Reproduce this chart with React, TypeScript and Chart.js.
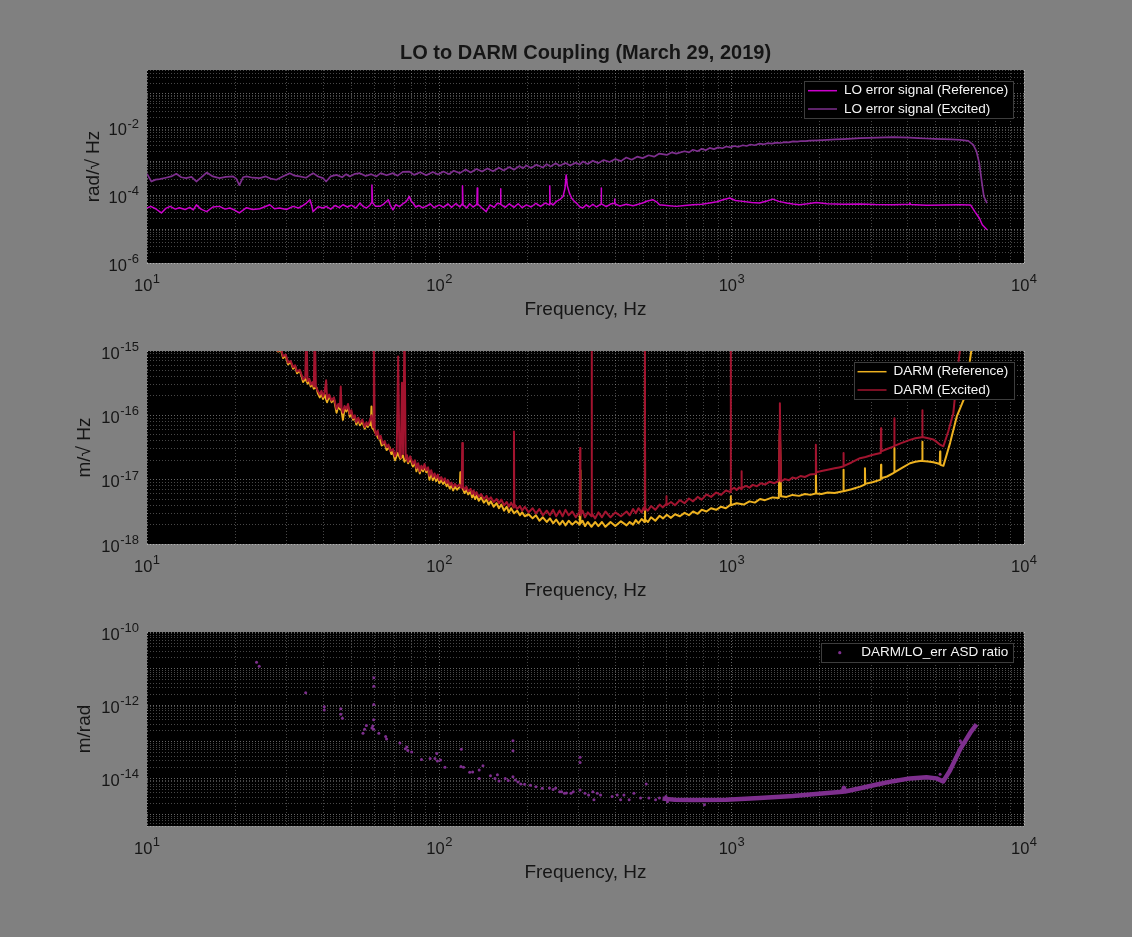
import { useEffect, useRef } from 'react';
import { Chart, registerables } from 'chart.js';

Chart.register(...registerables);

// ---------------- data: [frequency Hz, value] ----------------

const xTickExps = [1, 2, 3, 4];
const loTickExps = [-6, -4, -2];
const darmTickExps = [-18, -17, -16, -15];
const ratioTickExps = [-14, -12, -10];

// LO error signal (Reference), rad/rtHz
const loRef: [number, number][] = [
  [10, 4.2e-5], [10.3, 4.7e-5], [10.7, 4.0e-5], [11.2, 3.0e-5], [11.6, 4.1e-5], [12, 4.7e-5], [12.5, 3.9e-5], [12.9, 4.3e-5],
  [13.5, 3.8e-5], [14, 4.4e-5], [14.4, 3.7e-5], [14.75, 5.2e-5], [15.3, 3.9e-5], [16, 3.3e-5], [16.8, 4.5e-5], [17.7, 4.7e-5],
  [18.5, 3.9e-5], [19.2, 4.2e-5], [20, 3.6e-5], [20.7, 3.0e-5], [21.9, 4.3e-5], [23, 3.8e-5], [24.3, 4.0e-5], [25.3, 4.6e-5],
  [26.3, 5.25e-5], [27.3, 4.0e-5], [28.4, 4.2e-5], [30, 3.8e-5], [31.6, 4.7e-5], [33, 4.2e-5], [34.2, 5.0e-5], [35.1, 5.9e-5],
  [36.1, 7.4e-5], [36.6, 5.0e-5], [37, 3.3e-5], [38.5, 4.6e-5], [40, 4.2e-5], [41, 4.7e-5], [42.5, 3.9e-5], [44, 5.0e-5],
  [45.5, 4.3e-5], [46.8, 5.25e-5], [48.5, 4.5e-5], [50, 5.1e-5], [51.8, 4.2e-5], [53.5, 5.9e-5], [55, 4.6e-5], [56.3, 4.2e-5],
  [57.8, 5.0e-5], [58.6, 6.0e-5], [58.8, 2.0e-4], [59.1, 6.0e-5], [60.5, 4.7e-5], [62.6, 4.7e-5], [64.5, 5.5e-5], [66.9, 7.4e-5],
  [68, 5.0e-5], [69.4, 3.7e-5], [71, 5.3e-5], [73, 4.6e-5], [75, 5.6e-5], [77, 6.5e-5], [79, 9.2e-5], [80, 6.8e-5],
  [81.3, 5.9e-5], [83, 4.5e-5], [85, 5.0e-5], [87.5, 4.3e-5], [90.2, 4.7e-5], [93, 5.6e-5], [96, 4.3e-5], [100, 5.2e-5],
  [103.3, 4.4e-5], [107, 5.6e-5], [110, 4.4e-5], [114, 5.7e-5], [117.5, 4.5e-5], [119.6, 5.5e-5], [120, 1.9e-4], [120.5, 5.2e-5],
  [124, 4.2e-5], [127, 5.6e-5], [130.4, 4.5e-5], [134.4, 5.4e-5], [134.8, 1.63e-4], [135.3, 5.5e-5], [140, 4.2e-5], [144.6, 3.3e-5],
  [149, 5.2e-5], [154, 4.4e-5], [158, 5.8e-5], [161.6, 5.5e-5], [162, 1.56e-4], [162.5, 5.4e-5], [168, 4.4e-5], [173.6, 5.6e-5],
  [180, 4.4e-5], [186, 5.6e-5], [192, 4.3e-5], [198.6, 5.2e-5], [206, 4.5e-5], [214, 5.8e-5], [222, 4.7e-5], [230, 5.9e-5],
  [238, 5.2e-5], [238.6, 1.9e-4], [239.3, 6.0e-5], [245, 5.2e-5], [251.6, 6.6e-5], [258, 7.4e-5], [265, 9.2e-5], [269, 1.6e-4],
  [271.6, 4.0e-4], [274, 1.9e-4], [278.6, 1.16e-4], [284, 8.0e-5], [289.8, 6.6e-5], [296, 5.6e-5], [302, 4.6e-5], [309.6, 4.2e-5],
  [318, 5.2e-5], [326, 4.5e-5], [335, 5.4e-5], [345, 4.5e-5], [357.5, 5.6e-5], [358, 1.63e-4], [358.5, 5.6e-5], [372.6, 4.6e-5],
  [385, 5.5e-5], [397.5, 5.8e-5], [398, 7.7e-5], [398.5, 5.6e-5], [415, 4.8e-5], [436, 5.4e-5], [460, 4.9e-5], [496, 5.9e-5],
  [515, 6.8e-5], [537, 7.4e-5], [555, 6.3e-5], [566, 5.25e-5], [600, 5.0e-5], [646, 4.7e-5], [690, 5.0e-5], [737, 5.25e-5],
  [790, 5.4e-5], [841, 5.9e-5], [890, 6.4e-5], [934, 7.4e-5], [985, 8.3e-5], [1030, 7.0e-5], [1092, 6.6e-5], [1170, 6.1e-5],
  [1245, 5.9e-5], [1320, 6.8e-5], [1383, 7.7e-5], [1450, 6.6e-5], [1541, 5.9e-5], [1620, 5.5e-5], [1708, 5.25e-5], [1820, 5.6e-5],
  [1946, 6.1e-5], [2125, 5.6e-5], [2400, 5.4e-5], [2750, 5.5e-5], [3100, 5.3e-5], [3570, 5.25e-5], [4050, 5.4e-5], [4070, 6.0e-5],
  [4090, 5.3e-5], [4640, 5.1e-5], [5300, 5.2e-5], [6050, 5.25e-5], [6560, 5.2e-5], [6790, 3.3e-5], [7040, 2.1e-5], [7200, 1.35e-5],
  [7470, 9.6e-6],
];

// LO error signal (Excited), rad/rtHz
const loExc: [number, number][] = [
  [10, 4.3e-4], [10.35, 2.55e-4], [10.7, 2.9e-4], [11.05, 3.0e-4], [11.6, 3.3e-4], [12.1, 3.6e-4], [12.6, 4.3e-4], [13.1, 3.4e-4],
  [13.6, 3.2e-4], [14.2, 3.5e-4], [14.75, 2.55e-4], [15.3, 3.3e-4], [16, 4.7e-4], [16.8, 3.6e-4], [17.7, 3.2e-4], [18.6, 3.5e-4],
  [19.7, 3.6e-4], [20.2, 3.1e-4], [20.7, 2.0e-4], [21.3, 3.4e-4], [21.9, 3.6e-4], [23, 3.3e-4], [24.3, 3.2e-4], [25.5, 3.6e-4],
  [26.5, 3.1e-4], [27.7, 2.87e-4], [29, 3.5e-4], [30.8, 4.5e-4], [32, 3.8e-4], [33.3, 3.6e-4], [35, 3.3e-4], [37, 4.5e-4],
  [38.5, 3.6e-4], [40, 3.2e-4], [41, 2.55e-4], [42.5, 3.6e-4], [44.5, 4.0e-4], [46.5, 3.4e-4], [48, 4.2e-4], [49.4, 3.6e-4],
  [51.5, 4.3e-4], [53.5, 4.5e-4], [56, 3.7e-4], [58.5, 4.2e-4], [60.9, 3.6e-4], [63, 4.5e-4], [66, 3.9e-4], [69.4, 4.5e-4],
  [72, 3.8e-4], [75, 4.9e-4], [79, 5.0e-4], [82, 4.0e-4], [86, 4.8e-4], [90.2, 3.9e-4], [95, 4.9e-4], [99, 4.1e-4],
  [103.3, 5.0e-4], [108, 4.2e-4], [112, 5.3e-4], [117.5, 4.5e-4], [123, 5.8e-4], [128, 4.7e-4], [134, 6.0e-4], [140, 5.0e-4],
  [146, 6.2e-4], [152.6, 5.1e-4], [160, 6.5e-4], [166, 5.4e-4], [173.6, 6.8e-4], [180, 5.7e-4], [188, 7.3e-4], [193, 6.2e-4],
  [198.6, 7.6e-4], [206, 6.4e-4], [215, 8.0e-4], [226, 6.6e-4], [233, 8.3e-4], [240, 7.0e-4], [250, 8.8e-4], [258, 7.4e-4],
  [270, 9.0e-4], [280, 7.6e-4], [293.6, 9.2e-4], [302, 8.0e-4], [310, 1.0e-3], [322, 8.4e-4], [335, 1.05e-3], [350, 8.9e-4],
  [365, 1.1e-3], [382, 9.6e-4], [400, 1.18e-3], [418, 1.02e-3], [436, 1.3e-3], [455, 1.12e-3], [475, 1.38e-3], [496, 1.25e-3],
  [520, 1.52e-3], [543, 1.38e-3], [566, 1.7e-3], [600, 1.55e-3], [625, 1.85e-3], [646, 1.7e-3], [690, 2.0e-3], [715, 1.85e-3],
  [737, 2.2e-3], [765, 2.0e-3], [790, 2.35e-3], [815, 2.15e-3], [841, 2.5e-3], [870, 2.3e-3], [900, 2.6e-3], [930, 2.45e-3],
  [958, 2.75e-3], [990, 2.6e-3], [1020, 2.85e-3], [1055, 2.7e-3], [1092, 3.0e-3], [1125, 2.85e-3], [1160, 3.15e-3], [1200, 3.0e-3],
  [1245, 3.35e-3], [1290, 3.2e-3], [1330, 3.45e-3], [1375, 3.35e-3], [1420, 3.6e-3], [1470, 3.5e-3], [1520, 3.72e-3], [1570, 3.65e-3],
  [1620, 3.9e-3], [1680, 3.82e-3], [1730, 4.0e-3], [1790, 3.95e-3], [1850, 4.1e-3], [1980, 4.2e-3], [2125, 4.34e-3], [2270, 4.45e-3],
  [2420, 4.55e-3], [2580, 4.7e-3], [2750, 4.86e-3], [2950, 4.95e-3], [3140, 5.07e-3], [3350, 5.15e-3], [3570, 5.2e-3], [3800, 5.15e-3],
  [4070, 5.07e-3], [4350, 4.9e-3], [4640, 4.74e-3], [4950, 4.62e-3], [5290, 4.55e-3], [5650, 4.45e-3], [6050, 4.34e-3], [6450, 4.05e-3],
  [6710, 3.09e-3], [6880, 1.96e-3], [7030, 8.9e-4], [7180, 2.29e-4], [7290, 9.2e-5], [7470, 5.9e-5],
];

// DARM (Reference), m/rtHz
const darmRef: [number, number][] = [
  [25, 1.75e-15], [28.1, 9.8e-16], [28.7, 1.05e-15], [29.2, 7.8e-16], [29.8, 8.4e-16], [30.4, 6.2e-16], [31, 6.8e-16], [31.6, 5.3e-16],
  [32.1, 5.8e-16], [32.6, 4.5e-16], [33.3, 5.0e-16], [33.8, 4.0e-16], [34.2, 3.3e-16], [34.8, 3.7e-16], [35.5, 3.1e-16], [35.9, 3.5e-16],
  [36.3, 2.8e-16], [36.8, 3.1e-16], [37.2, 2.6e-16], [38, 2.7e-16], [38.4, 2.2e-16], [39, 1.9e-16], [39.5, 2.2e-16], [40, 1.8e-16],
  [40.5, 2.1e-16], [41.3, 1.6e-16], [42, 2.0e-16], [42.8, 1.6e-16], [43.6, 1.8e-16], [44.5, 1.1e-16], [45.1, 1.4e-16], [45.7, 1.25e-16],
  [46.3, 1.2e-16], [46.8, 8.5e-17], [47.4, 1.3e-16], [48.1, 1.15e-16], [48.7, 1.4e-16], [49.4, 9.5e-17], [50, 1.1e-16], [50.7, 8.5e-17],
  [51.4, 9.5e-17], [52, 7.2e-17], [52.8, 8.6e-17], [53.5, 7.0e-17], [54.5, 8.0e-17], [55.6, 6.2e-17], [56.3, 7.4e-17], [57, 6.6e-17],
  [57.8, 7.6e-17], [58.3, 7.0e-17], [58.6, 1.37e-16], [58.9, 6.4e-17], [59.7, 6.0e-17], [60.3, 5.4e-17], [61, 5.0e-17], [61.8, 4.4e-17],
  [62.6, 4.3e-17], [63.5, 3.4e-17], [65, 3.7e-17], [66, 2.9e-17], [67.6, 3.2e-17], [68.5, 2.5e-17], [69.4, 2.7e-17], [70.5, 2.0e-17],
  [72, 2.6e-17], [73.5, 2.1e-17], [75, 2.4e-17], [76, 1.9e-17], [77.2, 2.3e-17], [78.2, 1.8e-17], [79.5, 2.1e-17], [81.2, 1.6e-17],
  [82.5, 1.9e-17], [83.5, 1.35e-17], [84.6, 1.7e-17], [85.7, 1.25e-17], [86.8, 1.55e-17], [88, 1.35e-17], [89, 1.65e-17], [90.2, 1.3e-17],
  [91.5, 1.45e-17], [92.5, 1.0e-17], [93.8, 1.3e-17], [95, 9.8e-18], [96.3, 1.15e-17], [97.5, 9.5e-18], [98.8, 1.1e-17], [100, 8.8e-18],
  [101.5, 1.0e-17], [103, 8.6e-18], [104.5, 9.5e-18], [105.9, 7.9e-18], [107.2, 8.8e-18], [108.5, 7.3e-18], [110, 8.2e-18], [111.5, 6.8e-18],
  [113, 7.8e-18], [115, 7.0e-18], [117, 7.6e-18], [117.6, 8.5e-18], [118, 1.3e-17], [118.5, 8.0e-18], [120.4, 7.2e-18], [122, 6.2e-18],
  [123.7, 7.0e-18], [125.5, 5.9e-18], [128, 6.5e-18], [129.5, 5.3e-18], [131, 6.0e-18], [132.5, 5.0e-18], [134, 5.7e-18], [136.5, 4.7e-18],
  [139, 5.3e-18], [142, 4.4e-18], [145, 4.9e-18], [147.5, 4.1e-18], [150, 4.6e-18], [153.5, 3.8e-18], [157, 4.3e-18], [160, 3.6e-18],
  [163, 4.1e-18], [166.5, 3.3e-18], [170, 3.8e-18], [173, 3.1e-18], [176, 3.6e-18], [180, 3.0e-18], [184.5, 3.3e-18], [188.7, 2.8e-18],
  [192, 3.1e-18], [196, 2.7e-18], [202, 2.9e-18], [208.5, 2.5e-18], [214, 2.8e-18], [220, 2.3e-18], [226, 2.6e-18], [233, 2.2e-18],
  [239, 2.5e-18], [245, 2.1e-18], [251, 2.4e-18], [258, 2.0e-18], [264, 2.3e-18], [270, 1.95e-18], [277, 2.3e-18], [285, 2.0e-18],
  [293, 2.25e-18], [302.2, 2.0e-18], [303, 1.4e-17], [303.8, 2.1e-18], [309, 2.3e-18], [315, 1.9e-18], [322, 2.2e-18], [331.5, 1.85e-18],
  [341, 2.2e-18], [350, 1.9e-18], [360, 2.2e-18], [370, 1.85e-18], [385, 2.2e-18], [400, 1.9e-18], [418, 2.25e-18], [437, 1.95e-18],
  [448, 2.2e-18], [460, 2.0e-18], [470, 2.35e-18], [480, 2.1e-18], [492, 2.45e-18], [504.2, 2.2e-18], [505, 4.0e-16], [505.8, 2.4e-18],
  [517, 2.2e-18], [530, 2.6e-18], [548, 2.3e-18], [567, 2.75e-18], [582, 2.5e-18], [600, 2.85e-18], [620, 2.55e-18], [640, 2.9e-18],
  [665, 2.7e-18], [690, 3.05e-18], [714, 2.8e-18], [738, 3.2e-18], [765, 2.95e-18], [790, 3.4e-18], [820, 3.2e-18], [850, 3.6e-18],
  [885, 3.4e-18], [920, 3.8e-18], [955, 3.6e-18], [992, 4.1e-18], [993, 5.5e-18], [994, 4.0e-18], [1040, 4.3e-18], [1100, 4.1e-18],
  [1150, 4.6e-18], [1200, 4.4e-18], [1250, 5.0e-18], [1300, 4.8e-18], [1380, 5.3e-18], [1450, 5.2e-18], [1462, 5.9e-17], [1475, 5.5e-18],
  [1540, 5.4e-18], [1614, 5.8e-18], [1700, 5.6e-18], [1780, 6.0e-18], [1860, 5.8e-18], [1935, 6.1e-18], [1941, 1.27e-17], [1947, 6.1e-18],
  [2030, 6.0e-18], [2130, 6.3e-18], [2250, 6.2e-18], [2405, 6.6e-18], [2411, 1.43e-17], [2418, 6.6e-18], [2570, 7.1e-18], [2748, 7.8e-18],
  [2850, 8.4e-18], [2857, 1.5e-17], [2864, 8.6e-18], [3050, 9.2e-18], [3236, 1.0e-17], [3243, 1.7e-17], [3250, 1.05e-17], [3400, 1.12e-17],
  [3573, 1.26e-17], [3595, 1.3e-17], [3600, 3.1e-17], [3608, 1.3e-17], [3800, 1.5e-17], [4074, 1.8e-17], [4250, 1.9e-17], [4463, 1.96e-17],
  [4485, 1.95e-17], [4490, 3.9e-17], [4497, 1.95e-17], [4700, 1.92e-17], [4900, 1.87e-17], [5050, 1.8e-17], [5150, 1.75e-17], [5163, 2.75e-17],
  [5175, 1.7e-17], [5300, 1.64e-17], [5585, 3.7e-17], [5890, 9.6e-17], [6280, 1.95e-16], [6600, 1.0e-15], [7000, 3.0e-15],
];

// DARM (Excited), m/rtHz
const darmExc: [number, number][] = [
  [25, 1.8e-15], [28.1, 1.0e-15], [28.7, 1.1e-15], [29.2, 8.2e-16], [29.8, 8.8e-16], [30.4, 6.6e-16], [31, 7.0e-16], [31.6, 5.6e-16],
  [32.1, 6.0e-16], [32.6, 4.8e-16], [33.3, 5.1e-16], [33.8, 4.2e-16], [34.2, 3.6e-16], [34.8, 3.9e-16], [35.1, 2.5e-15], [35.4, 3.4e-16],
  [35.9, 3.7e-16], [36.3, 3.0e-16], [36.8, 3.3e-16], [37.2, 2.8e-16], [37.5, 2.5e-15], [37.8, 2.8e-16], [38.4, 2.4e-16], [39, 2.1e-16],
  [39.5, 2.4e-16], [40, 1.95e-16], [40.5, 2.3e-16], [41, 3.5e-16], [41.3, 1.8e-16], [42, 2.1e-16], [42.8, 1.7e-16], [43.6, 1.9e-16],
  [44.5, 1.25e-16], [45.1, 1.5e-16], [45.7, 1.35e-16], [46, 2.8e-16], [46.3, 1.3e-16], [46.8, 1.1e-16], [47.4, 1.4e-16], [48.1, 1.25e-16],
  [48.7, 1.5e-16], [49.4, 1.05e-16], [50, 1.2e-16], [50.7, 9.0e-17], [51.4, 1.0e-16], [52, 7.8e-17], [52.8, 9.2e-17], [53.5, 7.6e-17],
  [54.5, 8.6e-17], [55.6, 6.6e-17], [56.3, 7.8e-17], [57, 7.0e-17], [57.8, 8.2e-17], [58.6, 1.0e-16], [59.4, 6.5e-17], [59.7, 2.5e-15],
  [60.1, 6.0e-17], [60.8, 4.9e-17], [61.5, 5.8e-17], [62.3, 4.3e-17], [63, 4.8e-17], [64, 3.6e-17], [65, 4.0e-17], [66, 3.2e-17],
  [67, 3.5e-17], [68, 2.8e-17], [69.4, 3.0e-17], [70.5, 2.3e-17], [71.5, 2.8e-17], [72.3, 8.2e-16], [73, 2.6e-17], [73.8, 2.2e-17],
  [74.5, 3.2e-16], [75.2, 2.5e-17], [76, 2.5e-15], [76.7, 2.1e-17], [77.5, 2.4e-17], [78.2, 1.9e-17], [79.5, 2.3e-17], [81.2, 1.75e-17],
  [82.5, 2.0e-17], [83.5, 1.5e-17], [84.6, 1.8e-17], [85.7, 1.35e-17], [86.8, 1.65e-17], [88, 1.45e-17], [89, 1.75e-17], [90.2, 1.4e-17],
  [91.5, 1.55e-17], [92.5, 1.15e-17], [93.8, 1.4e-17], [95, 1.1e-17], [96.3, 1.25e-17], [97.5, 1.05e-17], [98.8, 1.2e-17], [100, 9.8e-18],
  [101.5, 1.1e-17], [103, 9.5e-18], [104.5, 1.05e-17], [105.9, 8.8e-18], [107.2, 9.8e-18], [108.5, 8.2e-18], [110, 9.0e-18], [111.5, 7.6e-18],
  [113, 8.6e-18], [115, 7.8e-18], [117, 8.4e-18], [119.2, 7.4e-18], [119.8, 3.7e-17], [120.4, 8.0e-18], [122, 6.9e-18], [123.7, 7.8e-18],
  [125.5, 6.6e-18], [128, 7.2e-18], [129.5, 6.0e-18], [131, 6.8e-18], [132.5, 5.7e-18], [134, 6.4e-18], [136.5, 5.4e-18], [139, 6.0e-18],
  [142, 5.0e-18], [145, 5.6e-18], [147.5, 4.8e-18], [150, 5.3e-18], [153.5, 4.5e-18], [157, 5.0e-18], [160, 4.3e-18], [163, 4.9e-18],
  [166.5, 4.0e-18], [170, 4.5e-18], [173, 3.8e-18], [176, 4.4e-18], [179.5, 3.7e-18], [180, 5.6e-17], [180.5, 4.2e-18], [184.5, 3.5e-18],
  [188.7, 3.9e-18], [192, 3.3e-18], [196, 3.8e-18], [202, 3.1e-18], [208.5, 3.6e-18], [214, 3.0e-18], [220, 3.5e-18], [226, 2.8e-18],
  [233, 3.3e-18], [239, 2.8e-18], [245, 3.4e-18], [251, 2.7e-18], [258, 3.3e-18], [264, 2.7e-18], [270, 3.4e-18], [277, 2.8e-18],
  [285, 3.2e-18], [293, 2.6e-18], [302.2, 3.2e-18], [303, 3.1e-17], [303.8, 2.8e-18], [309, 3.3e-18], [315, 2.6e-18], [322, 3.1e-18],
  [331.5, 2.7e-18], [332, 2.5e-15], [332.6, 3.0e-18], [341, 2.5e-18], [350, 3.1e-18], [360, 2.6e-18], [370, 3.2e-18], [385, 2.6e-18],
  [400, 3.1e-18], [418, 2.7e-18], [437, 3.2e-18], [448, 2.8e-18], [460, 3.5e-18], [470, 3.0e-18], [480, 3.6e-18], [492, 3.1e-18],
  [500, 3.7e-18], [504.2, 3.4e-18], [505, 2.5e-15], [505.8, 3.6e-18], [517, 3.3e-18], [530, 3.9e-18], [548, 3.4e-18], [567, 4.1e-18],
  [582, 3.7e-18], [597, 4.2e-18], [598, 5.5e-18], [599, 4.0e-18], [620, 4.5e-18], [640, 4.0e-18], [665, 4.8e-18], [690, 4.3e-18],
  [714, 5.1e-18], [738, 4.6e-18], [765, 5.4e-18], [790, 4.9e-18], [820, 5.9e-18], [850, 5.4e-18], [885, 6.3e-18], [920, 5.8e-18],
  [955, 6.8e-18], [992, 6.4e-18], [993, 2.5e-15], [994, 6.9e-18], [1020, 7.5e-18], [1040, 6.9e-18], [1060, 7.6e-18], [1080, 7.1e-18],
  [1081, 1.35e-17], [1082, 7.4e-18], [1120, 8.0e-18], [1150, 7.5e-18], [1180, 8.3e-18], [1220, 7.9e-18], [1260, 8.8e-18], [1300, 8.4e-18],
  [1350, 9.3e-18], [1400, 8.8e-18], [1450, 9.6e-18], [1457, 6.0e-17], [1462, 1.54e-16], [1467, 5.0e-17], [1475, 9.4e-18], [1520, 1.02e-17],
  [1570, 9.8e-18], [1614, 1.08e-17], [1660, 1.04e-17], [1720, 1.14e-17], [1780, 1.1e-17], [1850, 1.2e-17], [1935, 1.22e-17], [1941, 3.5e-17],
  [1947, 1.3e-17], [2030, 1.36e-17], [2130, 1.43e-17], [2250, 1.5e-17], [2330, 1.55e-17], [2405, 1.6e-17], [2411, 2.6e-17], [2418, 1.62e-17],
  [2570, 1.85e-17], [2748, 2.16e-17], [2870, 2.25e-17], [3000, 2.4e-17], [3120, 2.5e-17], [3236, 2.6e-17], [3243, 6.3e-17], [3250, 2.75e-17],
  [3400, 3.0e-17], [3573, 3.27e-17], [3595, 3.3e-17], [3600, 9.0e-17], [3608, 3.35e-17], [3800, 3.7e-17], [4074, 4.16e-17], [4250, 4.4e-17],
  [4463, 4.58e-17], [4485, 4.6e-17], [4490, 1.2e-16], [4497, 4.6e-17], [4700, 4.4e-17], [4900, 4.2e-17], [5050, 3.8e-17], [5163, 3.5e-17],
  [5300, 3.3e-17], [5500, 5.5e-17], [5731, 1.08e-16], [5962, 6.45e-16], [6100, 1.5e-15], [6500, 5.0e-15],
];

// DARM/LO_err ASD ratio, m/rad: individual points
const ratioPoints: [number, number][] = [
  [23.7, 1.5e-11], [24.2, 1.16e-11], [34.9, 2.2e-12], [40.4, 9.1e-13], [40.4, 7.4e-13], [46, 8.0e-13], [46, 5.7e-13], [46.6, 4.4e-13],
  [54.8, 1.7e-13], [55.5, 2.2e-13], [56.3, 2.8e-13], [58.8, 2.4e-13], [59.2, 2.7e-13], [59.6, 2.2e-13], [59.6, 4.0e-13], [59.7, 1.05e-12],
  [59.7, 3.3e-12], [59.7, 5.6e-12], [62.1, 1.7e-13], [65.5, 1.4e-13], [66, 1.2e-13], [73.3, 9.3e-14], [76.5, 6.5e-14], [77.4, 7.2e-14],
  [78, 5.8e-14], [80.4, 5.3e-14], [86.9, 3.3e-14], [93, 3.5e-14], [96.6, 3.5e-14], [98, 4.8e-14], [98.5, 3.0e-14], [101, 3.2e-14],
  [104.5, 2.0e-14], [118.6, 2.1e-14], [119, 6.3e-14], [121, 2.0e-14], [127, 1.46e-14], [130, 1.5e-14], [136.9, 1.7e-14], [136.9, 9.9e-15],
  [141, 2.2e-14], [149.6, 1.18e-14], [155, 1.0e-14], [158, 1.25e-14], [160, 8.5e-15], [168, 1.0e-14], [172, 8.8e-15], [178.6, 1.06e-13],
  [178.6, 5.7e-14], [178.6, 1.1e-14], [182, 9.0e-15], [185.8, 8.0e-15], [190, 7.0e-15], [195.8, 6.9e-15], [205, 6.5e-15], [214, 5.9e-15],
  [225, 5.4e-15], [238, 5.5e-15], [245, 5.0e-15], [250, 5.5e-15], [258, 4.3e-15], [262, 4.3e-15], [268, 3.9e-15], [272, 4.0e-15],
  [282, 3.9e-15], [287, 4.3e-15], [303, 3.8e-14], [303, 2.7e-14], [303, 4.8e-15], [315, 3.9e-15], [324, 3.5e-15], [335, 4.3e-15],
  [338, 2.6e-15], [347, 3.9e-15], [356, 3.5e-15], [390, 3.2e-15], [406, 3.5e-15], [417, 2.6e-15], [428, 3.5e-15], [446, 2.6e-15],
  [463, 3.9e-15], [488, 2.9e-15], [510, 7.0e-15], [521, 2.9e-15], [549, 2.6e-15], [566, 2.9e-15], [596, 3.2e-15], [603, 2.3e-15],
  [807, 1.9e-15], [5163, 1.3e-14], [6050, 1.07e-13], [6100, 9.6e-14],
];
// the dense run of ratio points above ~580 Hz, which merges into a band
const ratioBand: [number, number][] = [
  [580, 2.8e-15], [640, 2.6e-15], [738, 2.55e-15], [958, 2.6e-15], [1245, 2.9e-15], [1620, 3.3e-15], [2125, 4.0e-15], [2400, 4.3e-15],
  [2420, 5.5e-15], [2440, 4.4e-15], [2750, 5.4e-15], [3140, 6.8e-15], [3570, 8.4e-15], [4070, 1.0e-14], [4640, 1.08e-14], [5020, 1.0e-14],
  [5290, 8.2e-15], [5580, 1.63e-14], [6050, 6.3e-14], [6560, 1.8e-13], [6880, 3.0e-13],
];

// ---------------- styling ----------------

const FONT = '"Liberation Sans", Arial, Helvetica, sans-serif';
const INK = '#151515';
const GRID_MINOR = 'rgba(255,255,255,0.28)';
const GRID_MAJOR = 'rgba(255,255,255,0.40)';
const PAGE_W = 1132;
const PAGE_H = 937;
const PLOT_LEFT = 147;
const PLOT_RIGHT = 1024;

const pts = (rows: [number, number][]) => rows.map(([x, y]) => ({ x, y }));

// 1..9 x 10^n grid positions between min and max
function logGrid(min: number, max: number) {
  const out: { value: number; major: boolean }[] = [];
  for (let e = Math.floor(Math.log10(min)); e <= Math.ceil(Math.log10(max)); e++) {
    for (let m = 1; m <= 9; m++) {
      const v = m * Math.pow(10, e);
      if (v >= min * 0.999 && v <= max * 1.001) out.push({ value: v, major: m === 1 });
    }
  }
  return out;
}

const line = (label: string, color: string, rows: [number, number][], extra = {}) => ({
  label,
  data: pts(rows),
  showLine: true,
  borderColor: color,
  backgroundColor: color,
  borderWidth: 1.5,
  borderJoinStyle: 'round',
  pointRadius: 0,
  tension: 0,
  ...extra,
});

// black plot area
const plotBackground = {
  id: 'plotBackground',
  beforeDraw(chart: any) {
    const { ctx, chartArea: a } = chart;
    ctx.save();
    ctx.fillStyle = '#000';
    ctx.fillRect(a.left, a.top, a.right - a.left, a.bottom - a.top);
    ctx.restore();
  },
};

// MATLAB-style legend box in the upper right of the plot
const boxLegend = {
  id: 'boxLegend',
  afterDraw(chart: any) {
    const { ctx, chartArea: a } = chart;
    const items = chart.data.datasets.filter((d: any) => d.label && !d.legendHidden);
    if (!items.length) return;
    ctx.save();
    ctx.font = `13.5px ${FONT}`;
    const textW = Math.max(...items.map((d: any) => ctx.measureText(d.label).width));
    const w = 4 + 29 + 7 + textW + 5;
    const h = 19 + 18.3 * (items.length - 1);
    const left = a.right - 10.7 - w;
    const top = a.top + 10.7;
    ctx.fillStyle = '#000';
    ctx.fillRect(left, top, w, h);
    ctx.strokeStyle = '#3d3d3d';
    ctx.lineWidth = 1;
    ctx.strokeRect(Math.round(left) + 0.5, Math.round(top) + 0.5, Math.round(w), Math.round(h));
    items.forEach((d: any, i: number) => {
      const cy = top + 10 + 18.3 * i;
      if (d.showLine === false) {
        ctx.fillStyle = d.backgroundColor;
        ctx.beginPath();
        ctx.arc(left + 4 + 14.5, cy, 1.6, 0, Math.PI * 2);
        ctx.fill();
      } else {
        ctx.strokeStyle = d.borderColor;
        ctx.lineWidth = 1.5;
        ctx.beginPath();
        ctx.moveTo(left + 4, cy);
        ctx.lineTo(left + 33, cy);
        ctx.stroke();
      }
      ctx.fillStyle = '#f4f4f4';
      ctx.textBaseline = 'middle';
      ctx.textAlign = 'left';
      ctx.fillText(d.label, left + 40, cy);
    });
    ctx.restore();
  },
};

// 10^n tick labels with a raised exponent
function powerTicks(xExps: number[], yExps: number[]) {
  return {
    id: 'powerTicks',
    afterDraw(chart: any) {
      const { ctx, chartArea: a } = chart;
      const xs = chart.scales.x;
      const ys = chart.scales.y;
      const baseFont = `16.5px ${FONT}`;
      const expFont = `13px ${FONT}`;
      ctx.save();
      ctx.fillStyle = INK;
      ctx.textBaseline = 'middle';
      ctx.textAlign = 'left';
      const size = (e: number) => {
        ctx.font = baseFont;
        const wb = ctx.measureText('10').width;
        ctx.font = expFont;
        const we = ctx.measureText(String(e)).width;
        return { wb, we, total: wb + 0.5 + we };
      };
      const put = (e: number, left: number, baseY: number, expY: number) => {
        const { wb } = size(e);
        ctx.font = baseFont;
        ctx.fillText('10', left, baseY);
        ctx.font = expFont;
        ctx.fillText(String(e), left + wb + 0.5, expY);
      };
      xExps.forEach((e) => {
        const px = xs.getPixelForValue(Math.pow(10, e));
        put(e, px - size(e).total / 2, a.bottom + 23.7, a.bottom + 16.7);
      });
      yExps.forEach((e) => {
        const py = ys.getPixelForValue(Math.pow(10, e));
        put(e, a.left - 8 - size(e).total, py + 3, py - 3.5);
      });
      ctx.restore();
    },
  };
}

interface Panel {
  top: number;
  height: number;
  plotTop: number;
  plotBottom: number;
  yMin: number;
  yMax: number;
  yExps: number[];
  yTitle: string;
  yTitleX: number;
  datasets: any[];
  title?: string;
}

function makeConfig(p: Panel): any {
  const titleH = p.title ? 70 : 0;
  const xHeight = p.height - (p.plotBottom - p.top);
  const xTitleCenter = p.plotBottom + 47 - p.top;
  const gridColor = (c: any) => (c.tick && c.tick.major ? GRID_MAJOR : GRID_MINOR);
  return {
    type: 'scatter',
    data: { datasets: p.datasets },
    plugins: [plotBackground, powerTicks(xTickExps, p.yExps), boxLegend],
    options: {
      responsive: false,
      animation: false,
      events: [],
      layout: { padding: { left: 0, right: PAGE_W - PLOT_RIGHT, top: p.plotTop - p.top - titleH, bottom: 0 } },
      plugins: {
        legend: { display: false },
        tooltip: { enabled: false },
        title: p.title
          ? {
              display: true,
              text: p.title,
              fullSize: false,
              color: INK,
              font: { family: FONT, size: 20, weight: 'bold', lineHeight: 1.2 },
              padding: { top: 41.5, bottom: 4.5 },
            }
          : { display: false },
      },
      scales: {
        x: {
          type: 'logarithmic',
          min: 10,
          max: 10000,
          afterBuildTicks: (s: any) => {
            s.ticks = logGrid(10, 10000);
          },
          afterFit: (s: any) => {
            s.height = xHeight;
          },
          ticks: { display: false },
          grid: { color: gridColor, drawTicks: false, lineWidth: 1 },
          border: { display: false, dash: [1, 2] },
          title: {
            display: true,
            text: 'Frequency, Hz',
            color: INK,
            font: { family: FONT, size: 19, lineHeight: 1.2 },
            padding: { top: 0, bottom: p.height - 11.4 - xTitleCenter },
          },
        },
        y: {
          type: 'logarithmic',
          min: p.yMin,
          max: p.yMax,
          afterBuildTicks: (s: any) => {
            s.ticks = logGrid(p.yMin, p.yMax);
          },
          afterFit: (s: any) => {
            s.width = PLOT_LEFT;
          },
          ticks: { display: false },
          grid: { color: gridColor, drawTicks: false, lineWidth: 1 },
          border: { display: false, dash: [1, 2] },
          title: {
            display: true,
            text: p.yTitle,
            color: INK,
            font: { family: FONT, size: 19, lineHeight: 1.2 },
            padding: { top: p.yTitleX - 11.4, bottom: 0 },
          },
        },
      },
    },
  };
}

const panels: Panel[] = [
  {
    top: 0,
    height: 330,
    plotTop: 70,
    plotBottom: 263,
    yMin: 1e-6,
    yMax: 0.5,
    yExps: loTickExps,
    yTitle: 'rad/√ Hz',
    yTitleX: 93.4,
    title: 'LO to DARM Coupling (March 29, 2019)',
    datasets: [
      line('LO error signal (Reference)', '#cc00cc', loRef),
      line('LO error signal (Excited)', '#7e2f8e', loExc, { borderWidth: 1.7 }),
    ],
  },
  {
    top: 330,
    height: 290,
    plotTop: 351,
    plotBottom: 544,
    yMin: 1e-18,
    yMax: 1e-15,
    yExps: darmTickExps,
    yTitle: 'm/√ Hz',
    yTitleX: 85,
    datasets: [
      line('DARM (Reference)', '#edb120', darmRef, { order: 1, borderWidth: 2 }),
      line('DARM (Excited)', '#a2142f', darmExc, { order: 0, borderWidth: 2 }),
    ],
  },
  {
    top: 620,
    height: 317,
    plotTop: 632,
    plotBottom: 826,
    yMin: 5e-16,
    yMax: 1e-10,
    yExps: ratioTickExps,
    yTitle: 'm/rad',
    yTitleX: 85,
    datasets: [
      {
        label: 'DARM/LO_err ASD ratio',
        data: pts(ratioPoints),
        showLine: false,
        pointRadius: 1.5,
        pointBorderWidth: 0,
        backgroundColor: '#7e2f8e',
        borderColor: '#7e2f8e',
      },
      line('ratio band', '#7e2f8e', ratioBand, { borderWidth: 4.5, legendHidden: true }),
    ],
  },
];

export default function App(): React.JSX.Element {
  const r0 = useRef<HTMLCanvasElement>(null);
  const r1 = useRef<HTMLCanvasElement>(null);
  const r2 = useRef<HTMLCanvasElement>(null);
  const refs = [r0, r1, r2];

  useEffect(() => {
    const canvases = [r0, r1, r2];
    const charts = panels.map((p, i) => new Chart(canvases[i].current as HTMLCanvasElement, makeConfig(p)));
    return () => {
      charts.forEach((c) => c.destroy());
    };
  }, []);

  return (
    <div
      style={{
        position: 'fixed',
        left: 0,
        top: 0,
        width: PAGE_W,
        height: PAGE_H,
        background: '#808080',
        overflow: 'hidden',
      }}
    >
      {panels.map((p, i) => (
        <canvas
          key={i}
          ref={refs[i]}
          width={PAGE_W}
          height={p.height}
          style={{ position: 'absolute', left: 0, top: p.top, width: PAGE_W, height: p.height }}
        />
      ))}
    </div>
  );
}
